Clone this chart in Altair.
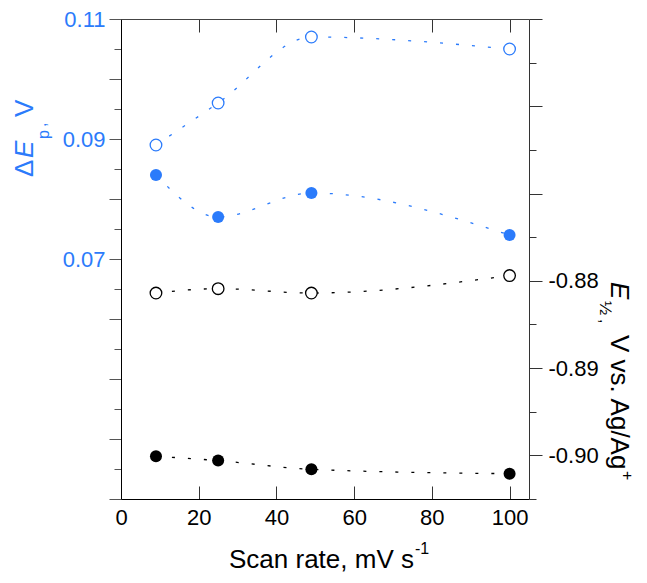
import altair as alt
import pandas as pd

# ---------------- data ----------------
scan_rate = [9, 25, 49, 100]
dEp_open = [0.089, 0.096, 0.107, 0.105]
dEp_filled = [0.084, 0.077, 0.081, 0.074]
E_half_open = [-0.8814, -0.8809, -0.8814, -0.8794]
E_half_filled = [-0.9001, -0.9006, -0.9016, -0.9021]

x_tick_values = [0, 20, 40, 60, 80, 100]
x_top_ticks = [20, 40, 60, 80, 100]
left_tick_values = [0.03, 0.035, 0.04, 0.045, 0.05, 0.055, 0.06, 0.065, 0.07,
                    0.075, 0.08, 0.085, 0.09, 0.095, 0.10, 0.105, 0.11]
left_labels = [0.07, 0.09, 0.11]
right_tick_values = [-0.905, -0.90, -0.895, -0.89, -0.885, -0.88, -0.875,
                     -0.87, -0.865, -0.86, -0.855, -0.85]
right_labels = [-0.88, -0.89, -0.90]

BLUE = "#2B7BFB"
FONT = "Liberation Sans"
TICK_FS = 22
TITLE_FS = 26

blue_df = pd.DataFrame({
    "rate": scan_rate * 2,
    "val": dEp_open + dEp_filled,
    "kind": ["open"] * 4 + ["filled"] * 4,
})
black_df = pd.DataFrame({
    "rate": scan_rate * 2,
    "val": E_half_open + E_half_filled,
    "kind": ["open"] * 4 + ["filled"] * 4,
})


def label_expr(labels):
    test = " || ".join(f"abs(datum.value - ({v})) < 1e-6" for v in labels)
    return f"({test}) ? replace(format(datum.value, '.2f'), '\u2212', '-') : ''"


major_test = "abs(datum.value*100 - round(datum.value*100)) < 0.01"

x_scale = alt.Scale(domain=[0, 105], nice=False, zero=False)

bottom_axis = alt.Axis(
    orient="bottom", values=x_tick_values, title=None, grid=False,
    tickSize={"expr": "-13"}, tickColor="#333", domainColor="black",
    labelFont=FONT, labelFontSize=TICK_FS, labelColor="black",
    labelPadding=21, labelFlush=False, labelOverlap=False,
)
top_axis = alt.Axis(
    orient="top", values=x_top_ticks, title=None, grid=False, labels=False,
    tickSize={"expr": "-13"}, tickColor="#333", domainColor="#444",
)
left_axis = alt.Axis(
    orient="left", values=left_tick_values, title=None, grid=False,
    tickSize={"condition": {"test": major_test, "value": 12}, "value": 7},
    tickColor="#555", domainColor="black",
    labelExpr=label_expr(left_labels), labelColor=BLUE, labelFont=FONT,
    labelFontSize=TICK_FS, labelPadding=4, labelOverlap=False, labelFlush=False,
)
right_axis = alt.Axis(
    orient="right", values=right_tick_values, title=None, grid=False,
    tickSize={"condition": {"test": major_test, "value": 13}, "value": 7},
    tickColor="#333", domainColor="#333",
    labelExpr=label_expr(right_labels), labelColor="black", labelFont=FONT,
    labelFontSize=TICK_FS, labelPadding=6, labelOverlap=False, labelFlush=False,
)

DASH = [3, 13]

# ---------- blue (ΔEp, left axis) ----------
bx = alt.X("rate:Q", scale=x_scale, axis=bottom_axis)
by = alt.Y("val:Q", scale=alt.Scale(domain=[0.03, 0.11], nice=False, zero=False),
           axis=left_axis)
blue_base = alt.Chart(blue_df)
blue_line = blue_base.mark_line(color=BLUE, strokeDash=DASH, strokeWidth=1.3,
                                interpolate="monotone").encode(x=bx, y=by, detail="kind:N")
blue_open = blue_base.transform_filter("datum.kind == 'open'").mark_point(
    shape="circle", filled=True, fill="white", stroke=BLUE, strokeWidth=1.3,
    size=135, opacity=1).encode(x=bx, y=by)
blue_fill = blue_base.transform_filter("datum.kind == 'filled'").mark_circle(
    color=BLUE, size=145, opacity=1).encode(x=bx, y=by)
blue_layer = alt.layer(blue_line, blue_open, blue_fill)

# ---------- black (E1/2, right axis) ----------
kx = alt.X("rate:Q", scale=x_scale, axis=top_axis)
ky = alt.Y("val:Q", scale=alt.Scale(domain=[-0.905, -0.85], nice=False, zero=False),
           axis=right_axis)
black_base = alt.Chart(black_df)
black_line = black_base.mark_line(color="black", strokeDash=DASH, strokeWidth=1.3,
                                  interpolate="monotone").encode(x=kx, y=ky, detail="kind:N")
black_open = black_base.transform_filter("datum.kind == 'open'").mark_point(
    shape="circle", filled=True, fill="white", stroke="black", strokeWidth=1.3,
    size=135, opacity=1).encode(x=kx, y=ky)
black_fill = black_base.transform_filter("datum.kind == 'filled'").mark_circle(
    color="black", size=145, opacity=1).encode(x=kx, y=ky)
black_layer = alt.layer(black_line, black_open, black_fill)

# ---------- composed axis titles ----------
one = pd.DataFrame({"d": [0]})


def txt(s, x, y, size=TITLE_FS, angle=0, color="black", style="normal"):
    return alt.Chart(one).mark_text(
        text=s, font=FONT, fontSize=size, fontStyle=style, color=color,
        align="left", baseline="alphabetic", angle=angle,
    ).encode(x=alt.value(x), y=alt.value(y))


titles = [
    # x title
    txt("Scan rate, mV s", 108, 549),
    txt("-1", 294, 535, size=16),
    # left title (reads upward)
    txt("\u0394", -88, 158, angle=270, color=BLUE),
    txt("E", -88, 139, angle=270, color=BLUE, style="italic"),
    txt("p", -72, 120, size=16, angle=270, color=BLUE),
    txt(",", -75, 108, size=16, angle=270, color=BLUE),
    txt("V", -88, 98, angle=270, color=BLUE),
    # right title (reads downward)
    txt("E", 490, 263, angle=90, style="italic"),
    txt("\u00bd", 479, 282, size=17, angle=90),
    txt(",", 479, 300, size=16, angle=90),
    txt("V vs. Ag/Ag", 490, 316, angle=90),
    txt("+", 501, 452, size=16, angle=90),
]

chart = alt.layer(blue_layer, black_layer, *titles).resolve_scale(
    y="independent"
).resolve_axis(x="independent").properties(
    width=408, height=480,
    autosize=alt.AutoSizeParams(type="none"),
    padding={"left": 113, "top": 11, "right": 110, "bottom": 76},
).configure_view(strokeWidth=0)

chart.save("out.html", embed_options={"renderer": "svg", "actions": False})
